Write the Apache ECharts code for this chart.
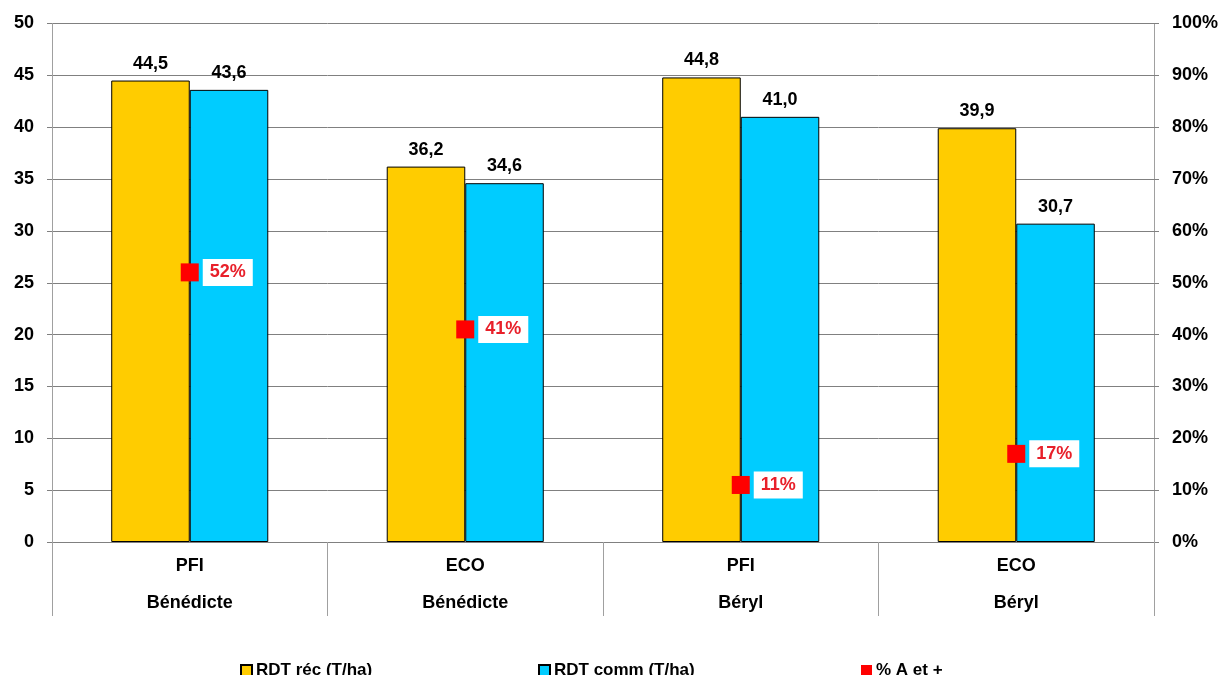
<!DOCTYPE html>
<html>
<head>
<meta charset="utf-8">
<script src="https://cdn.jsdelivr.net/npm/echarts@6/dist/echarts.min.js"></script>
<style>html,body{margin:0;padding:0;background:#fff;}#c{width:1223px;height:675px;}</style>
</head>
<body>
<div id="c"></div>
<script>
const categories = ['PFI\nBénédicte', 'ECO\nBénédicte', 'PFI\nBéryl', 'ECO\nBéryl'];
const rdtRec = [44.5, 36.2, 44.8, 39.9];
const rdtComm = [43.6, 34.6, 41.0, 30.7];
const pctA = [52, 41, 11, 17];
const leftTicks = { min: 0, max: 50, interval: 5 };
const rightTicks = { min: 0, max: 100, interval: 10 };
const seriesNames = ['RDT réc (T/ha)', 'RDT comm (T/ha)', '% A et +'];

const FONT = '"Liberation Sans", Arial, sans-serif';
const chart = echarts.init(document.getElementById('c'));
const fmtComma = p => p.value.toFixed(1).replace('.', ',');
const legendText = { fontFamily: FONT, fontSize: 17, fontWeight: 'bold', color: '#000' };
function legend(name, left) {
  return { data: [{ name: name, icon: 'rect' }], left: left, top: 662, padding: 0, itemWidth: 11, itemHeight: 11, itemGap: 0,
    textStyle: Object.assign({ padding: [0, 0, 0, -1] }, legendText) };
}
chart.setOption({
  backgroundColor: '#fff',
  animation: false,
  legend: [legend(seriesNames[0], 240), legend(seriesNames[1], 538), legend(seriesNames[2], 861)],
  grid: { left: 52, right: 69, top: 23.5, bottom: 133, containLabel: false },
  xAxis: {
    type: 'category', data: categories,
    axisLine: { show: true, lineStyle: { color: '#808080', width: 1 } },
    axisTick: { show: true, interval: 0, length: 74, alignWithLabel: false, lineStyle: { color: '#a0a0a0', width: 1 } },
    axisLabel: { interval: 0, margin: 6, fontFamily: FONT, fontSize: 18, fontWeight: 'bold', color: '#000', lineHeight: 37 },
    splitLine: { show: false }
  },
  yAxis: [
    { type: 'value', min: leftTicks.min, max: leftTicks.max, interval: leftTicks.interval,
      axisLine: { show: true, lineStyle: { color: '#a0a0a0' } },
      axisTick: { show: true, length: 5, lineStyle: { color: '#808080' } },
      axisLabel: { margin: 18, fontFamily: FONT, fontSize: 18, fontWeight: 'bold', color: '#000' },
      splitLine: { show: true, lineStyle: { color: '#808080', width: 1 } } },
    { type: 'value', min: rightTicks.min, max: rightTicks.max, interval: rightTicks.interval,
      axisLine: { show: true, lineStyle: { color: '#a0a0a0' } },
      axisTick: { show: true, length: 5, lineStyle: { color: '#808080' } },
      axisLabel: { margin: 18, formatter: '{value}%', fontFamily: FONT, fontSize: 18, fontWeight: 'bold', color: '#000' },
      splitLine: { show: false } }
  ],
  series: [
    { name: seriesNames[0], type: 'bar', data: rdtRec, barGap: '0%', barCategoryGap: '43%',
      itemStyle: { color: '#FFCC00', borderColor: '#000', borderWidth: 1 },
      label: { show: true, position: 'top', distance: 8, formatter: fmtComma, fontFamily: FONT, fontSize: 18, fontWeight: 'bold', color: '#000' } },
    { name: seriesNames[1], type: 'bar', data: rdtComm,
      itemStyle: { color: '#00CCFF', borderColor: '#000', borderWidth: 1 },
      label: { show: true, position: 'top', distance: 8, formatter: fmtComma, fontFamily: FONT, fontSize: 18, fontWeight: 'bold', color: '#000' } },
    { name: seriesNames[2], type: 'scatter', yAxisIndex: 1, data: pctA, symbol: 'rect', symbolSize: 18, z: 5,
      itemStyle: { color: '#FF0000', opacity: 1 },
      label: { show: true, position: 'right', distance: 4, formatter: '{c}%', backgroundColor: '#fff', padding: [5, 7, 4, 7],
        fontFamily: FONT, fontSize: 18, fontWeight: 'bold', color: '#E8202A' } }
  ]
});
</script>
</body>
</html>
